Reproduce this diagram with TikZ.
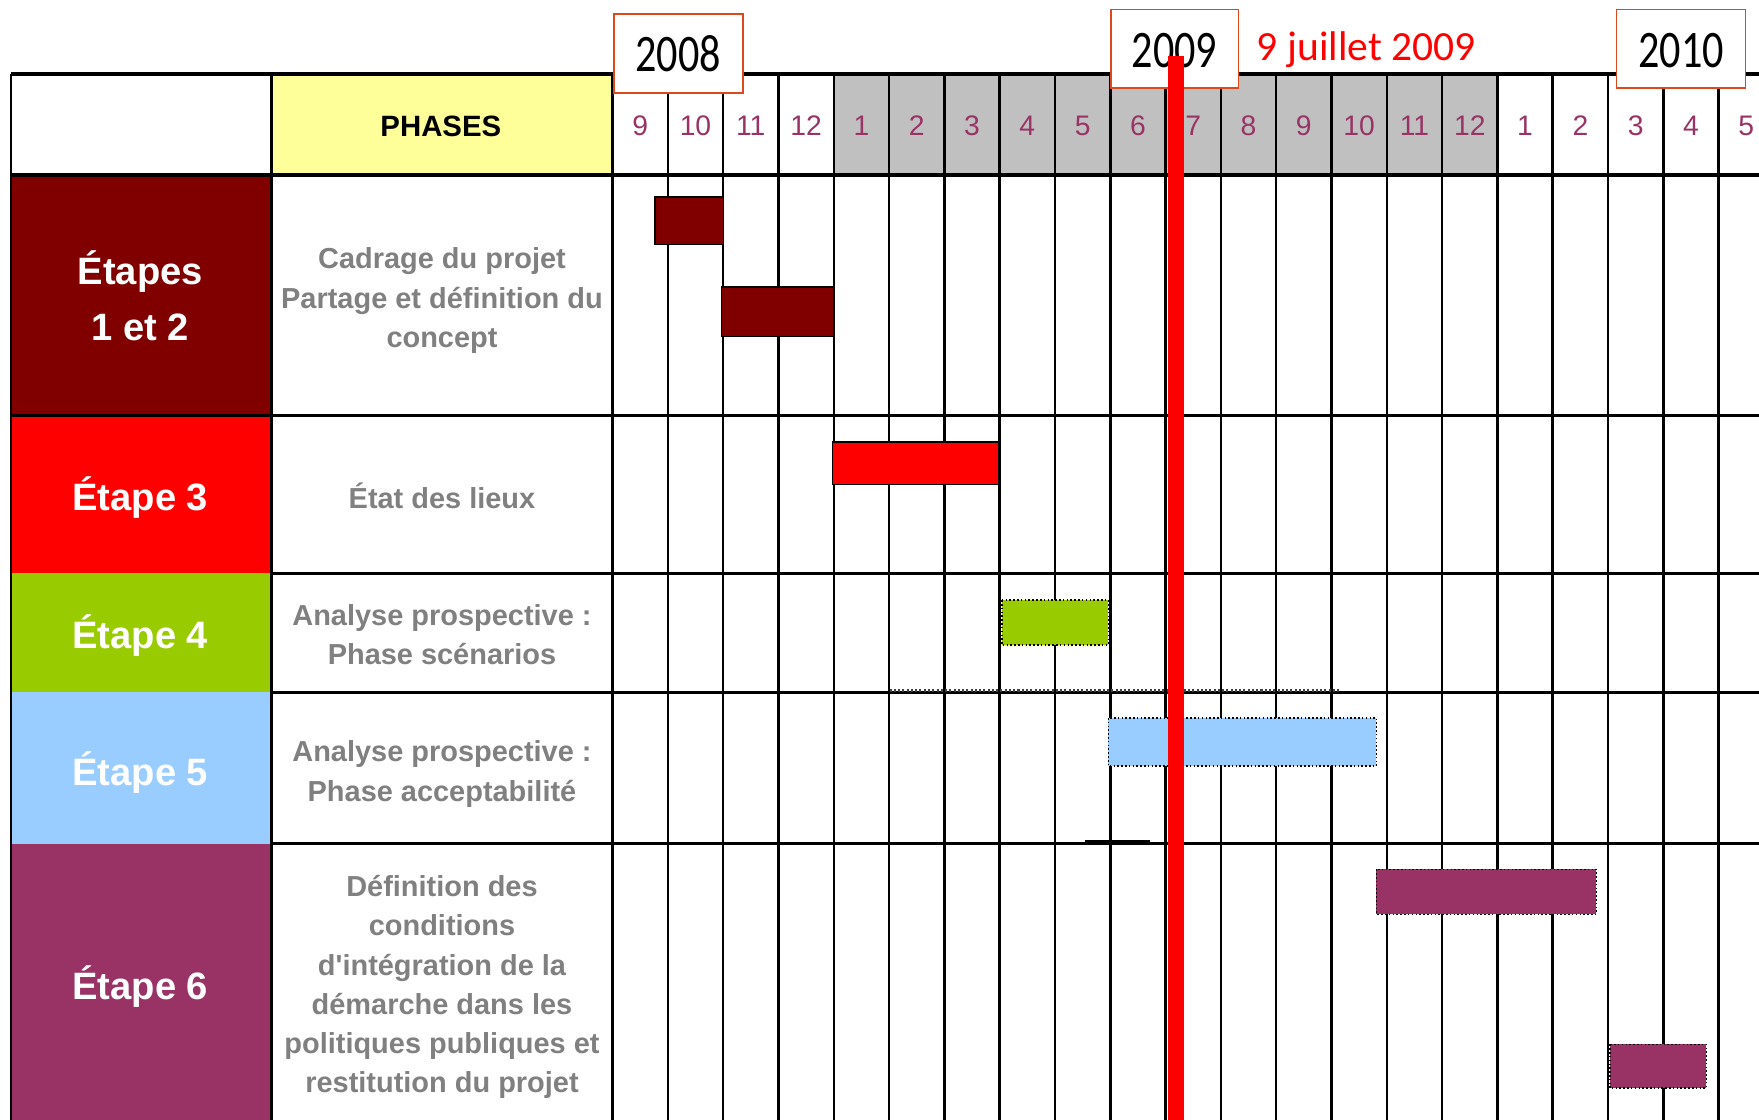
\documentclass[tikz,border=0pt]{standalone}
\usepackage{fontspec}
\setmainfont{Liberation Sans}
\newfontfamily\phasefont{Liberation Sans}
\newfontfamily\yearfont{Carlito}
\definecolor{cdarkred}{HTML}{800000}
\definecolor{cred}{HTML}{FF0000}
\definecolor{cgreen}{HTML}{99CC00}
\definecolor{cblue}{HTML}{99CCFF}
\definecolor{cpurple}{HTML}{993366}
\definecolor{cyellow}{HTML}{FFFF99}
\definecolor{chgrey}{HTML}{C0C0C0}
\definecolor{cphgrey}{HTML}{808080}
\definecolor{cbox}{HTML}{DC4A1C}
\tikzset{
  gridline/.style={line width=1.1pt, black},
  hline/.style={line width=1.4pt, black},
  solidbar/.style={draw=black, line width=0.7pt},
  dotbar/.style={draw=black, densely dotted, line width=0.7pt},
  yearbox/.style={draw=cbox, fill=white, line width=0.8pt},
  yeartxt/.style={font=\yearfont\fontsize{23.5}{24}\selectfont, text=black, inner sep=0pt, text height=15pt, text depth=0pt},
  monthtxt/.style={font=\fontsize{12.6}{14}\selectfont, text=cpurple, inner sep=0pt, text height=9pt, text depth=0pt},
  stagetxt/.style={font=\bfseries\fontsize{17}{25}\selectfont, text=white, align=center, inner sep=0pt},
  phasetxt/.style={font=\phasefont\bfseries\fontsize{12.9}{17.5}\selectfont, text=cphgrey, align=center, inner sep=0pt},
}
\begin{document}
\begin{tikzpicture}[x=0.5pt,y=-0.5pt]
\useasboundingbox (0,0) rectangle (1568,998);
\clip (0,0) rectangle (1568,998);
\fill[white] (0,0) rectangle (1568,998);
% header fills
\fill[cyellow] (242,66) rectangle (546,156);
\fill[chgrey] (743,66) rectangle (1335,156);
% stage cells
\fill[cdarkred] (10,156) rectangle (242,370);
\fill[cred] (10,370) rectangle (242,511);
\fill[cgreen] (10,511) rectangle (242,617);
\fill[cblue] (10,617) rectangle (242,752);
\fill[cpurple] (10,752) rectangle (242,1000);
% horizontal lines
\draw[hline] (10,66) -- (1570,66);
\draw[hline] (10,156) -- (1570,156);
\draw[hline] (10,370) -- (1570,370);
\draw[hline] (242,511) -- (1570,511);
\draw[hline] (242,617) -- (1570,617);
\draw[hline] (242,752) -- (1570,752);
% vertical lines
\draw[gridline] (10,66) -- (10,1000);
\draw[gridline] (242,66) -- (242,1000);
\foreach \k in {0,...,21} {
  \draw[gridline] ({546+49.3*\k},66) -- ({546+49.3*\k},1000);
}
% artefact lines
\draw[densely dotted, line width=0.9pt, black!75] (793,615.5) -- (1195,615.5);
\draw[line width=2.2pt] (967,751) -- (1025,751);
% month labels
\foreach \m [count=\i from 0] in {9,10,11,12,1,2,3,4,5,6,7,8,9,10,11,12,1,2,3,4,5} {
  \node[monthtxt] (m\i) at ({546+49.3*(\i+0.5)},112) {\m};
}
\node[font=\bfseries\fontsize{13.1}{15}\selectfont, inner sep=0pt, text height=9.4pt, text depth=0pt] (phases) at (393,112) {PHASES};
% stage labels
\node[stagetxt] (s12) at (125,264) {Étapes\\1 et 2};
\node[stagetxt, text height=12pt, text depth=0pt] (s3) at (125,443) {Étape 3};
\node[stagetxt, text height=12pt, text depth=0pt] (s4) at (125,566) {Étape 4};
\node[stagetxt, text height=12pt, text depth=0pt] (s5) at (125,688) {Étape 5};
\node[stagetxt, text height=12pt, text depth=0pt] (s6) at (125,879) {Étape 6};
% phase labels
\node[phasetxt] (p12) at (394,268) {Cadrage du projet\\Partage et définition du\\concept};
\node[phasetxt] (p3) at (394,442) {État des lieux};
\node[phasetxt] (p4) at (394,566) {Analyse prospective :\\Phase scénarios};
\node[phasetxt] (p5) at (394,690) {Analyse prospective :\\Phase acceptabilité};
\node[phasetxt] (p6) at (394,880) {Définition des\\conditions\\d'intégration de la\\démarche dans les\\politiques publiques et\\restitution du projet};
% bars
\draw[solidbar, fill=cdarkred] (584,175.5) rectangle (645,218);
\draw[solidbar, fill=cdarkred] (643,256) rectangle (743,300);
\draw[solidbar, fill=cred] (742,394) rectangle (890,432);
\draw[dotbar, fill=cgreen] (893,535) rectangle (988,575);
\draw[dotbar, fill=cblue] (988,640) rectangle (1227,683);
\draw[dotbar, fill=cpurple] (1227,775) rectangle (1423,815);
\draw[dotbar, fill=cpurple] (1435,931) rectangle (1521,970);
% year boxes
\draw[yearbox] (547,12.5) rectangle (662,83);
\node[yeartxt] (y2008) at (604.5,49) {\scalebox{0.8}[1]{2008}};
\draw[yearbox] (990,8.5) rectangle (1104,78.5);
\node[yeartxt] (y2009) at (1047,45) {\scalebox{0.8}[1]{2009}};
\draw[yearbox] (1441,8.5) rectangle (1556,78.5);
\node[yeartxt] (y2010) at (1498.5,45) {\scalebox{0.8}[1]{2010}};
% date line
\fill[cred] (1041,49.6) rectangle (1055,1000);
\node[font=\yearfont\fontsize{18.5}{20}\selectfont, text=cred, anchor=west, inner sep=0pt, text height=12pt, text depth=0pt] (date) at (1120,41.6) {9 juillet 2009};
\end{tikzpicture}
\end{document}
